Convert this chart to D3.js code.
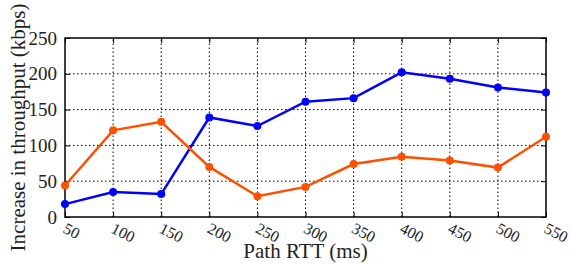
<!DOCTYPE html>
<html>
<head>
<meta charset="utf-8">
<script src="https://cdn.jsdelivr.net/npm/d3@7"></script>
<style>
  body { margin: 0; background: #fff; }
  text { font-family: "Liberation Serif", "Times New Roman", serif; fill: #222; }
</style>
</head>
<body>
<div id="chart"></div>
<script>
var rtt = [50, 100, 150, 200, 250, 300, 350, 400, 450, 500, 550];
var blueSeries = [18, 35, 32, 139, 127, 161, 166, 202, 193, 181, 174];
var orangeSeries = [44, 121, 133, 70, 29, 42, 74, 84, 79, 69, 112];
var yTicks = [0, 50, 100, 150, 200, 250];

var m = { width: 571, height: 264, top: 38, right: 25, bottom: 47, left: 65 };

var svg = d3.select("#chart").append("svg")
  .attr("width", m.width)
  .attr("height", m.height);

var x = d3.scaleLinear().domain([50, 550]).range([m.left, m.width - m.right]);
var y = d3.scaleLinear().domain([0, 250]).range([m.height - m.bottom, m.top]);

/* grid */
svg.append("g").selectAll("line").data(rtt.slice(1, -1)).enter().append("line")
  .attr("x1", d => x(d)).attr("x2", d => x(d))
  .attr("y1", y(0)).attr("y2", y(250))
  .style("stroke", "#000").style("stroke-width", 1).style("stroke-dasharray", "1.5,2.5");
svg.append("g").selectAll("line").data(yTicks.slice(1, -1)).enter().append("line")
  .attr("x1", x(50)).attr("x2", x(550))
  .attr("y1", d => y(d)).attr("y2", d => y(d))
  .style("stroke", "#000").style("stroke-width", 1).style("stroke-dasharray", "1.5,2.5");

/* axes */
svg.append("g")
  .attr("transform", `translate(0, ${y(0)})`)
  .call(d3.axisBottom(x).tickValues(rtt).tickSize(-5).tickFormat(""))
  .call(g => g.select(".domain").remove());
svg.append("g")
  .attr("transform", `translate(0, ${y(250)})`)
  .call(d3.axisTop(x).tickValues(rtt).tickSize(-5).tickFormat(""))
  .call(g => g.select(".domain").remove());
svg.append("g")
  .attr("transform", `translate(${x(50)}, 0)`)
  .attr("font-family", "Liberation Serif")
  .call(d3.axisLeft(y).tickValues(yTicks).tickSize(-5).tickPadding(8))
  .call(g => g.select(".domain").remove())
  .selectAll("text").style("font-size", "19px").attr("fill", "#222");
svg.append("g")
  .attr("transform", `translate(${x(550)}, 0)`)
  .call(d3.axisRight(y).tickValues(yTicks).tickSize(-5).tickFormat(""))
  .call(g => g.select(".domain").remove());

svg.append("rect")
  .attr("x", x(50)).attr("y", y(250))
  .attr("width", x(550) - x(50)).attr("height", y(0) - y(250))
  .style("fill", "none").style("stroke", "#000").style("stroke-width", 1.5);

/* rotated x tick labels */
svg.append("g").selectAll("text").data(rtt).enter().append("text")
  .attr("transform", d => `translate(${x(d) - 3}, ${y(0) + 15}) rotate(27)`)
  .style("font-size", "16px")
  .text(d => d);

/* lines */
var line = d3.line().x((d, i) => x(rtt[i])).y(d => y(d));
[[blueSeries, "#0000ff"], [orangeSeries, "#ff5000"]].forEach(s => {
  svg.append("path").datum(s[0])
    .attr("d", line)
    .style("fill", "none").style("stroke", s[1]).style("stroke-width", 2.5);
  svg.append("g").selectAll("circle").data(s[0]).enter().append("circle")
    .attr("cx", (d, i) => x(rtt[i])).attr("cy", d => y(d)).attr("r", 4)
    .style("fill", s[1]);
});

/* titles */
svg.append("text")
  .attr("x", (x(50) + x(550)) / 2).attr("y", 258)
  .attr("text-anchor", "middle")
  .style("font-size", "21px")
  .text("Path RTT (ms)");
svg.append("text")
  .attr("transform", `translate(25, ${(y(0) + y(250)) / 2}) rotate(-90)`)
  .attr("text-anchor", "middle")
  .style("font-size", "21px")
  .text("Increase in throughput (kbps)");
</script>
</body>
</html>
